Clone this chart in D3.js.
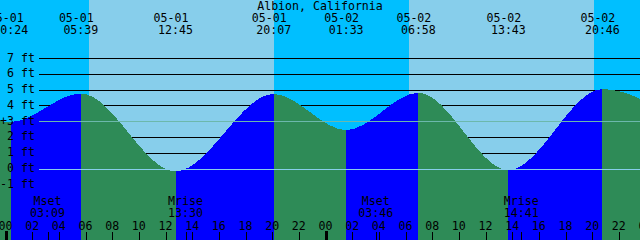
<!DOCTYPE html>
<html>
<head>
<meta charset="utf-8">
<script src="https://cdn.jsdelivr.net/npm/d3@7"></script>
<style>
  html, body { margin: 0; padding: 0; background: #fff; }
  svg { display: block; }
  text { font-family: "DejaVu Sans Mono", monospace; font-size: 11.6px; fill: #000; }
</style>
</head>
<body>
<svg id="chart"></svg>
<script>
const title = `Albion, California`;

// tide extremes (first and last lie just outside the window)
const tideTimes = [`04-30 18:40`, `05-01 00:24`, `05-01 05:39`, `05-01 12:45`, `05-01 20:07`,
    `05-02 01:33`, `05-02 06:58`, `05-02 13:43`, `05-02 20:46`, `05-03 02:40`];
const tideHeights = [4.5, 2.95, 4.75, -0.18, 4.72, 2.43, 4.8, -0.1, 5.03, 2.9];

const sunTimes = [`05-01 06:16`, `05-01 20:08`, `05-02 06:16`, `05-02 20:08`];
const sunEvents = [`rise`, `set`, `rise`, `set`];

const moonTimes = [`05-01 03:09`, `05-01 13:30`, `05-02 03:46`, `05-02 14:41`];
const moonEvents = [`Mset`, `Mrise`, `Mset`, `Mrise`];

const footTicks = [7, 6, 5, 4, 3, 2, 1, 0, -1];
const meanLevel = 3.03;

const width = 640;
const height = 240;

const nightColor = `#00BFFF`;
const dayColor = `#87CEEB`;
const floodColor = `#0000FF`;
const ebbColor = `#2E8B57`;

const parse = d3.timeParse(`%m-%d %H:%M`);
const fmtDate = d3.timeFormat(`%m-%d`);
const fmtTime = d3.timeFormat(`%H:%M`);

const t0 = parse(`05-01 00:00`);
const start = new Date(+t0 - 24.75 * 60000);
const end = new Date(+start + 48 * 3600000);

const x = d3.scaleTime().domain([start, end]).range([0, width]);
const y = d3.scaleLinear().domain([0, 7]).range([168.5, 58]);

const tides = tideTimes.map((t, i) => ({ time: parse(t), height: tideHeights[i] }));
const sun = sunTimes.map((t, i) => ({ time: parse(t), kind: sunEvents[i] }));
const moon = moonTimes.map((t, i) => ({ time: parse(t), label: moonEvents[i] }));

const svg = d3.select(`#chart`)
    .attr(`width`, width)
    .attr(`height`, height);

// sky: night until sunrise, day until sunset
const skyEdges = [start, ...sun.map(d => d.time), end];
svg.append(`g`).selectAll(`rect`)
    .data(d3.pairs(skyEdges))
    .join(`rect`)
    .attr(`x`, d => x(d[0]))
    .attr(`width`, d => x(d[1]) - x(d[0]))
    .attr(`y`, 0)
    .attr(`height`, height)
    .attr(`fill`, (d, i) => i % 2 === 0 ? nightColor : dayColor)
    .attr(`shape-rendering`, `crispEdges`);

// foot grid lines (water covers them)
svg.append(`g`).selectAll(`line`)
    .data(footTicks)
    .join(`line`)
    .attr(`x1`, 39)
    .attr(`x2`, width)
    .attr(`y1`, d => Math.round(y(d)) + 0.5)
    .attr(`y2`, d => Math.round(y(d)) + 0.5)
    .attr(`stroke`, `#000`)
    .attr(`shape-rendering`, `crispEdges`);

// water, coloured flood / ebb between extremes
const area = d3.area()
    .x(d => x(d.time))
    .y0(height)
    .y1(d => y(d.height))
    .curve(d3.curveMonotoneX);

const defs = svg.append(`defs`);
const segments = d3.pairs(tides);
segments.forEach((s, i) => {
    defs.append(`clipPath`)
        .attr(`id`, `seg${i}`)
        .append(`rect`)
        .attr(`x`, Math.round(x(s[0].time)))
        .attr(`width`, Math.round(x(s[1].time)) - Math.round(x(s[0].time)))
        .attr(`y`, 0)
        .attr(`height`, height);
});

svg.append(`g`).selectAll(`path`)
    .data(segments)
    .join(`path`)
    .attr(`d`, area(tides))
    .attr(`clip-path`, (d, i) => `url(#seg${i})`)
    .attr(`fill`, d => d[1].height > d[0].height ? floodColor : ebbColor)
    .attr(`shape-rendering`, `crispEdges`);

// mean level and datum lines
svg.append(`line`)
    .attr(`x1`, 39).attr(`x2`, width)
    .attr(`y1`, Math.round(y(meanLevel)) + 0.5)
    .attr(`y2`, Math.round(y(meanLevel)) + 0.5)
    .attr(`stroke`, `#6cb8ac`)
    .attr(`shape-rendering`, `crispEdges`);

svg.append(`line`)
    .attr(`x1`, 39).attr(`x2`, width)
    .attr(`y1`, Math.round(y(0)) + 0.5)
    .attr(`y2`, Math.round(y(0)) + 0.5)
    .attr(`stroke`, `#87CEEB`)
    .attr(`shape-rendering`, `crispEdges`);

// foot labels
svg.append(`g`).selectAll(`text`)
    .data(footTicks)
    .join(`text`)
    .attr(`x`, 35)
    .attr(`y`, d => y(d) + 3.5)
    .attr(`text-anchor`, `end`)
    .text(d => `${d} ft`);

svg.append(`text`)
    .attr(`x`, 0)
    .attr(`y`, y(meanLevel) + 4.5)
    .text(`+`);

// title
svg.append(`text`)
    .attr(`x`, width / 2)
    .attr(`y`, 10)
    .attr(`text-anchor`, `middle`)
    .text(title);

// tide event labels
const shown = tides.filter(d => d.time > start && d.time < end);
const tideLabels = svg.append(`g`).selectAll(`g`)
    .data(shown)
    .join(`g`);

tideLabels.append(`text`)
    .attr(`x`, d => x(d.time) - 4.5)
    .attr(`y`, 22)
    .attr(`text-anchor`, `middle`)
    .text(d => fmtDate(d.time));

tideLabels.append(`text`)
    .attr(`x`, d => x(d.time))
    .attr(`y`, 33.5)
    .attr(`text-anchor`, `middle`)
    .text(d => fmtTime(d.time));

// moon labels
const moonLabels = svg.append(`g`).selectAll(`g`)
    .data(moon)
    .join(`g`);

moonLabels.append(`text`)
    .attr(`x`, d => x(d.time))
    .attr(`y`, 205)
    .attr(`text-anchor`, `middle`)
    .text(d => d.label);

moonLabels.append(`text`)
    .attr(`x`, d => x(d.time))
    .attr(`y`, 217)
    .attr(`text-anchor`, `middle`)
    .text(d => fmtTime(d.time));

moonLabels.append(`line`)
    .attr(`x1`, d => Math.round(x(d.time)) + 0.5)
    .attr(`x2`, d => Math.round(x(d.time)) + 0.5)
    .attr(`y1`, 232)
    .attr(`y2`, height)
    .attr(`stroke`, `#000`)
    .attr(`shape-rendering`, `crispEdges`);

// hour axis
const hours = d3.timeHour.every(2).range(t0, new Date(+end + 3600000));
const hourTicks = svg.append(`g`).selectAll(`g`)
    .data(hours)
    .join(`g`);

hourTicks.append(`text`)
    .attr(`x`, d => x(d))
    .attr(`y`, 230)
    .attr(`text-anchor`, `middle`)
    .text(d => d3.timeFormat(`%H`)(d));

hourTicks.append(`line`)
    .attr(`x1`, d => Math.round(x(d)) + 0.5)
    .attr(`x2`, d => Math.round(x(d)) + 0.5)
    .attr(`y1`, d => d.getHours() === 0 ? 231 : 232)
    .attr(`y2`, height)
    .attr(`stroke`, `#000`)
    .attr(`stroke-width`, d => d.getHours() === 0 ? 3 : 1)
    .attr(`shape-rendering`, `crispEdges`);
</script>
</body>
</html>
